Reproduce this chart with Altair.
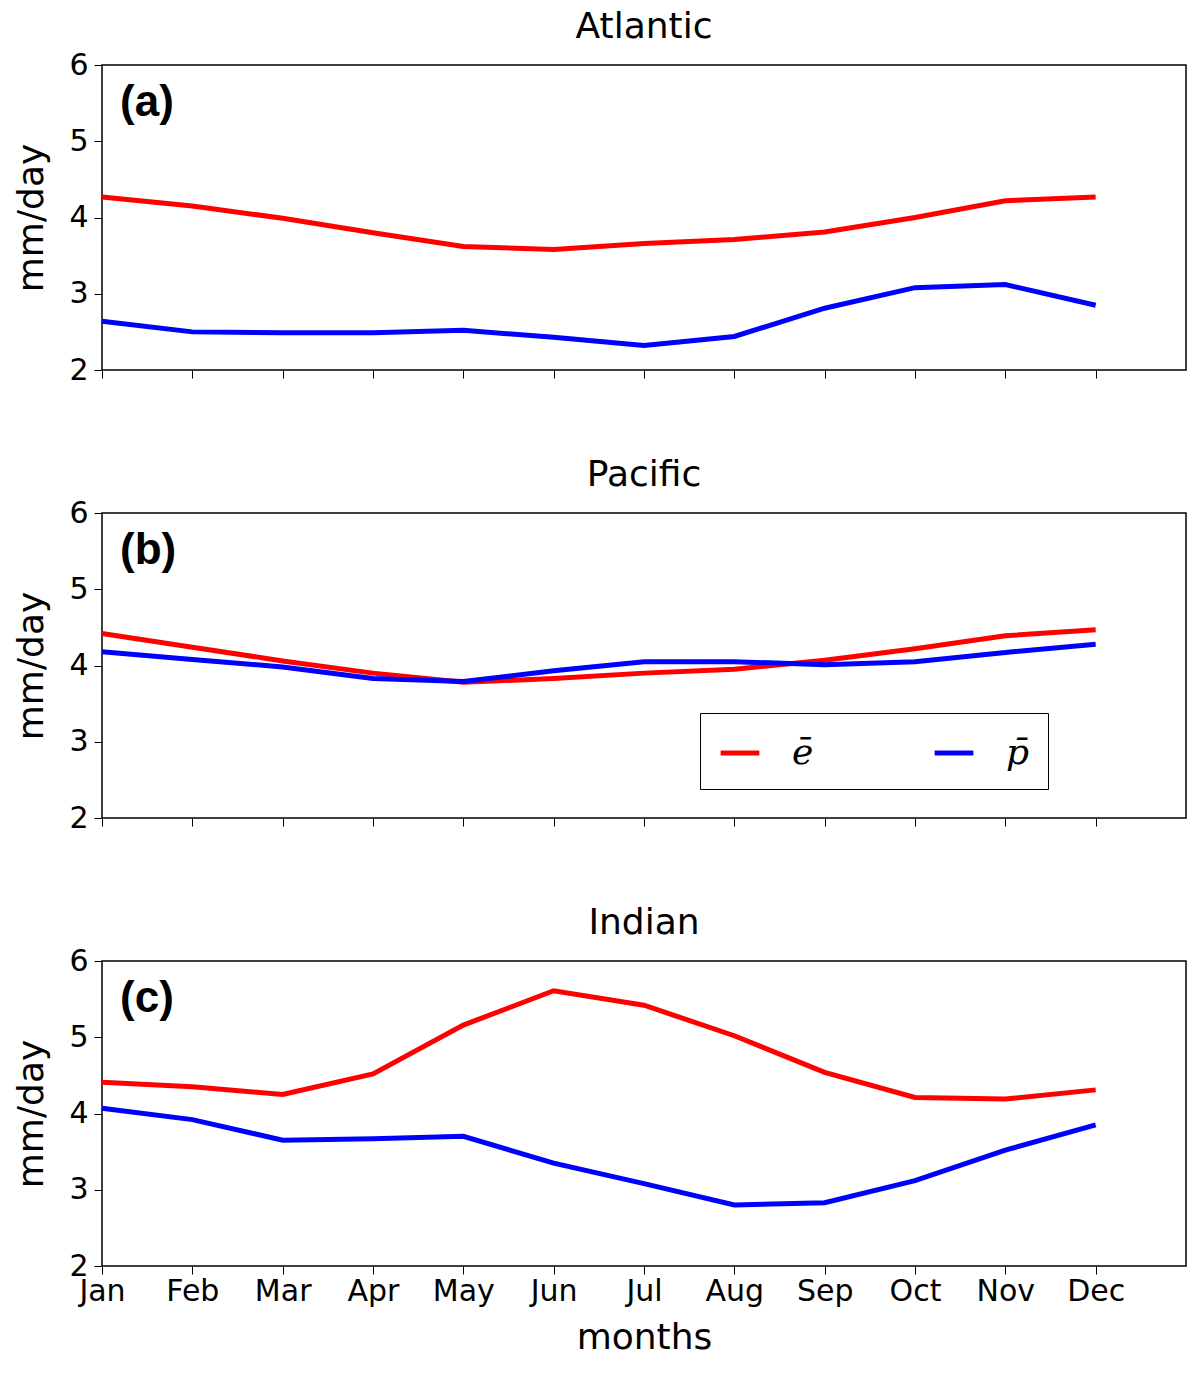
import altair as alt
import pandas as pd

months = ["Jan", "Feb", "Mar", "Apr", "May", "Jun", "Jul", "Aug", "Sep", "Oct", "Nov", "Dec"]

atl_e = [4.27, 4.15, 3.99, 3.80, 3.62, 3.58, 3.66, 3.71, 3.81, 4.00, 4.22, 4.27]
atl_p = [2.64, 2.50, 2.49, 2.49, 2.52, 2.43, 2.32, 2.44, 2.81, 3.08, 3.12, 2.85]
pac_e = [4.42, 4.24, 4.06, 3.90, 3.78, 3.83, 3.90, 3.95, 4.07, 4.22, 4.39, 4.47]
pac_p = [4.18, 4.08, 3.98, 3.83, 3.79, 3.93, 4.05, 4.05, 4.01, 4.05, 4.17, 4.28]
ind_e = [4.41, 4.35, 4.25, 4.52, 5.16, 5.61, 5.42, 5.02, 4.54, 4.21, 4.19, 4.31]
ind_p = [4.07, 3.92, 3.65, 3.67, 3.70, 3.35, 3.08, 2.80, 2.83, 3.12, 3.52, 3.85]

series_names = ["e\u0304", "p\u0304"]
FONT = "DejaVu Sans"


def panel(title, e, p, letter, show_x, show_legend):
    df = pd.DataFrame({
        "m": list(range(12)) * 2,
        "v": e + p,
        "s": [series_names[0]] * 12 + [series_names[1]] * 12,
    })
    x_axis = alt.Axis(
        values=list(range(12)), grid=False, tickSize=8, tickColor="black",
        labels=show_x, labelFontSize=30, labelFont=FONT, labelColor="black",
        labelAlign="center", labelFlush=False, labelBound=False,
        labelExpr="['Jan','Feb','Mar','Apr','May','Jun','Jul','Aug','Sep','Oct','Nov','Dec'][datum.value]",
        title="months" if show_x else None, titleFontSize=36, titleFont=FONT,
        titleFontWeight="normal", titlePadding=14, titleColor="black", domain=False,
    )
    y_axis = alt.Axis(
        values=[2, 3, 4, 5, 6], format="d", grid=False, tickSize=8, tickColor="black",
        labelFontSize=30, labelFont=FONT, labelColor="black", labelPadding=6,
        title="mm/day", titleFontSize=36, titleFont=FONT, titleFontWeight="normal",
        titlePadding=18, titleColor="black", domain=False,
    )
    legend = None
    if show_legend:
        legend = alt.Legend(
            orient="none", legendX=598, legendY=200, direction="horizontal",
            title=None, strokeColor="black", padding=18, fillColor="white",
            symbolType="stroke", symbolStrokeWidth=5, symbolSize=1500,
            labelFont="DejaVu Serif", labelFontStyle="italic", labelFontSize=36,
            labelColor="black", columnPadding=110, labelOffset=30, cornerRadius=0,
        )
    lines = alt.Chart(df).mark_line(strokeWidth=5).encode(
        x=alt.X("m:Q", scale=alt.Scale(domain=[0, 12], nice=False), axis=x_axis),
        y=alt.Y("v:Q", scale=alt.Scale(domain=[2, 6], nice=False), axis=y_axis),
        color=alt.Color("s:N", scale=alt.Scale(domain=series_names, range=["#ff0000", "#0000ff"]),
                        legend=legend),
    )
    lab = alt.Chart(pd.DataFrame({"m": [0.2], "v": [5.5], "t": [letter]})).mark_text(
        font="Liberation Sans", fontSize=44, fontWeight="bold", align="left", color="black"
    ).encode(x="m:Q", y="v:Q", text="t:N")
    return alt.layer(lines, lab).properties(
        width=1084, height=305,
        title=alt.TitleParams(title, fontSize=36, font=FONT, fontWeight="normal", color="black", offset=4),
    )


chart = alt.vconcat(
    panel("Atlantic", atl_e, atl_p, "(a)", False, False),
    panel("Pacific", pac_e, pac_p, "(b)", False, True),
    panel("Indian", ind_e, ind_p, "(c)", True, False),
    spacing=70,
).resolve_scale(color="independent").properties(
    padding={"left": 5, "top": 0, "right": 5, "bottom": 0}
).configure_view(stroke="black", strokeWidth=1.5)

chart.save("out.html", embed_options={"renderer": "svg", "actions": False})
